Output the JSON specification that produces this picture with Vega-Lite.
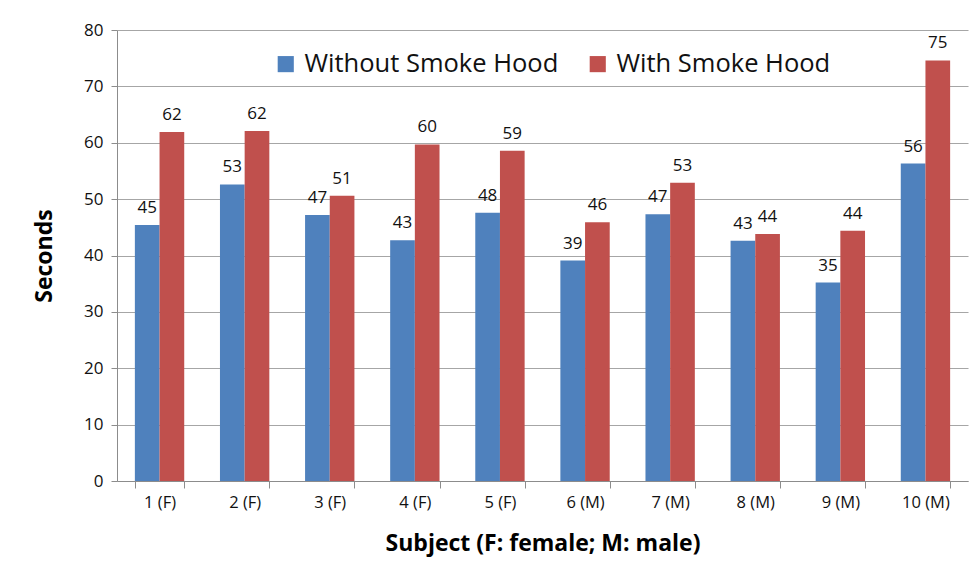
{
  "$schema": "https://vega.github.io/schema/vega-lite/v6.json",
  "autosize": {"type": "none"},
  "padding": {"left": 117, "top": 30, "right": 10, "bottom": 101},
  "width": 851,
  "height": 451,
  "background": "white",
  "config": {
    "view": {"stroke": null},
    "font": "Open Sans"
  },
  "data": {
    "values": [
      {"subject": "1 (F)", "condition": "Without Smoke Hood", "seconds": 45.4},
      {"subject": "1 (F)", "condition": "With Smoke Hood", "seconds": 61.9},
      {"subject": "2 (F)", "condition": "Without Smoke Hood", "seconds": 52.6},
      {"subject": "2 (F)", "condition": "With Smoke Hood", "seconds": 62.1},
      {"subject": "3 (F)", "condition": "Without Smoke Hood", "seconds": 47.2},
      {"subject": "3 (F)", "condition": "With Smoke Hood", "seconds": 50.6},
      {"subject": "4 (F)", "condition": "Without Smoke Hood", "seconds": 42.7},
      {"subject": "4 (F)", "condition": "With Smoke Hood", "seconds": 59.7},
      {"subject": "5 (F)", "condition": "Without Smoke Hood", "seconds": 47.6},
      {"subject": "5 (F)", "condition": "With Smoke Hood", "seconds": 58.6},
      {"subject": "6 (M)", "condition": "Without Smoke Hood", "seconds": 39.1},
      {"subject": "6 (M)", "condition": "With Smoke Hood", "seconds": 45.9},
      {"subject": "7 (M)", "condition": "Without Smoke Hood", "seconds": 47.3},
      {"subject": "7 (M)", "condition": "With Smoke Hood", "seconds": 52.9},
      {"subject": "8 (M)", "condition": "Without Smoke Hood", "seconds": 42.6},
      {"subject": "8 (M)", "condition": "With Smoke Hood", "seconds": 43.8},
      {"subject": "9 (M)", "condition": "Without Smoke Hood", "seconds": 35.2},
      {"subject": "9 (M)", "condition": "With Smoke Hood", "seconds": 44.4},
      {"subject": "10 (M)", "condition": "Without Smoke Hood", "seconds": 56.3},
      {"subject": "10 (M)", "condition": "With Smoke Hood", "seconds": 74.6}
    ]
  },
  "encoding": {
    "x": {
      "field": "subject",
      "type": "nominal",
      "sort": null,
      "scale": {"paddingInner": 0.42, "paddingOuter": 0.21},
      "axis": {
        "title": "Subject (F: female; M: male)",
        "titleFontSize": 23,
        "titleFontWeight": "bold",
        "titleColor": "#000000",
        "titlePadding": 22,
        "labelAngle": 0,
        "labelFontSize": 16.5,
        "labelColor": "#111111",
        "labelPadding": 6,
        "tickBand": "extent",
        "tickSize": 7,
        "tickColor": "#8c8c8c",
        "domainColor": "#8c8c8c",
        "grid": false
      }
    },
    "xOffset": {
      "field": "condition",
      "type": "nominal",
      "sort": ["Without Smoke Hood", "With Smoke Hood"],
      "scale": {"paddingInner": 0, "paddingOuter": 0}
    },
    "y": {
      "field": "seconds",
      "type": "quantitative",
      "scale": {"domain": [0, 80], "nice": false},
      "axis": {
        "title": "Seconds",
        "titleFontSize": 23,
        "titleFontWeight": "bold",
        "titleColor": "#000000",
        "titlePadding": 27,
        "values": [0, 10, 20, 30, 40, 50, 60, 70, 80],
        "labelFontSize": 17,
        "labelColor": "#111111",
        "labelPadding": 8,
        "tickSize": 6,
        "tickColor": "#8c8c8c",
        "domainColor": "#8c8c8c",
        "gridColor": "#a6a6a6",
        "gridWidth": 1.2
      }
    }
  },
  "layer": [
    {
      "mark": {"type": "bar"},
      "encoding": {
        "color": {
          "field": "condition",
          "type": "nominal",
          "sort": ["Without Smoke Hood", "With Smoke Hood"],
          "scale": {"domain": ["Without Smoke Hood", "With Smoke Hood"], "range": ["#4F81BD", "#C0504D"]},
          "legend": {
            "title": null,
            "orient": "none",
            "direction": "horizontal",
            "legendX": 156,
            "legendY": 21,
            "symbolType": "square",
            "symbolSize": 260,
            "symbolStrokeWidth": 0,
            "labelFontSize": 25.5,
            "labelColor": "#111111",
            "labelOffset": 6,
            "columnPadding": 26,
            "labelLimit": 400
          }
        }
      }
    },
    {
      "mark": {"type": "text", "baseline": "bottom", "dy": -8, "fontSize": 17, "color": "#111111"},
      "encoding": {
        "text": {"field": "seconds", "type": "quantitative", "format": ".0f"}
      }
    }
  ]
}
